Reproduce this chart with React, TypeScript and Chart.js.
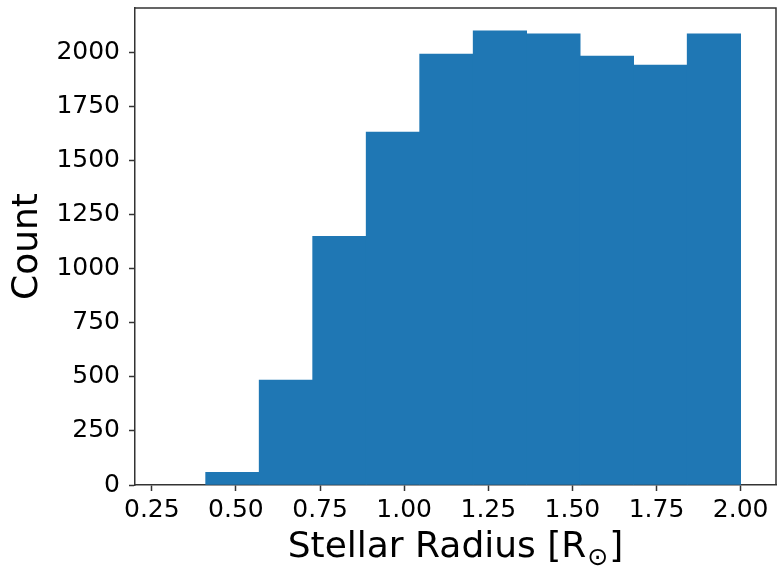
import React, { useEffect, useRef } from "react";
import { Chart, registerables } from "chart.js";

Chart.register(...registerables);

// Histogram bin edges (stellar radius, R_sun) and counts per bin
const binEdges = [0.41, 0.569, 0.728, 0.887, 1.046, 1.205, 1.364, 1.523, 1.682, 1.841, 2.0];
const counts = [59, 485, 1149, 1631, 1992, 2099, 2086, 1983, 1941, 2086];
const xTicks = [0.25, 0.5, 0.75, 1.0, 1.25, 1.5, 1.75, 2.0];
const yTicks = [0, 250, 500, 750, 1000, 1250, 1500, 1750, 2000];
const xLabel = "Stellar Radius [R";
const xLabelSub = "⊙";
const xLabelEnd = "]";
const yLabel = "Count";

const FONT = "'DejaVu Sans', sans-serif";
const SPINE = "#333333";

export default function App() {
  const ref = useRef<HTMLCanvasElement | null>(null);

  useEffect(() => {
    const canvas = ref.current;
    if (!canvas) return;
    const points = counts.map((c, i) => ({ x: (binEdges[i] + binEdges[i + 1]) / 2, y: c }));

    const framePlugin = {
      id: "frameAndTitles",
      afterDraw(chart: any) {
        const { ctx, chartArea } = chart;
        ctx.save();
        // top and right spines
        ctx.strokeStyle = SPINE;
        ctx.lineWidth = 1.5;
        ctx.beginPath();
        ctx.moveTo(chartArea.left, chartArea.top);
        ctx.lineTo(chartArea.right, chartArea.top);
        ctx.lineTo(chartArea.right, chartArea.bottom);
        ctx.stroke();

        ctx.fillStyle = "#000";
        // x title with subscript
        const size = 36;
        ctx.font = `${size}px ${FONT}`;
        const subSize = Math.round(size * 0.7);
        const w1 = ctx.measureText(xLabel).width;
        const w3 = ctx.measureText(xLabelEnd).width;
        ctx.font = `${subSize}px ${FONT}`;
        const w2 = ctx.measureText(xLabelSub).width;
        const total = w1 + w2 + w3 + 2;
        const cx = (chartArea.left + chartArea.right) / 2;
        let x = cx - total / 2;
        const baseline = 557;
        ctx.textBaseline = "alphabetic";
        ctx.textAlign = "left";
        ctx.font = `${size}px ${FONT}`;
        ctx.fillText(xLabel, x, baseline);
        x += w1 + 1;
        ctx.font = `${subSize}px ${FONT}`;
        ctx.fillText(xLabelSub, x, baseline + 8);
        x += w2 + 1;
        ctx.font = `${size}px ${FONT}`;
        ctx.fillText(xLabelEnd, x, baseline);

        // y title
        ctx.translate(28, (chartArea.top + chartArea.bottom) / 2);
        ctx.rotate(-Math.PI / 2);
        ctx.textAlign = "center";
        ctx.textBaseline = "middle";
        ctx.font = `${size}px ${FONT}`;
        ctx.fillText(yLabel, 0, 0);
        ctx.restore();
      },
    };

    const chart = new Chart(canvas, {
      type: "bar",
      data: {
        datasets: [
          {
            data: points,
            backgroundColor: "#1f77b4",
            borderWidth: 0,
            barPercentage: 1,
            categoryPercentage: 1,
          },
        ],
      },
      options: {
        animation: false,
        responsive: false,
        maintainAspectRatio: false,
        layout: { padding: { top: 8, right: 4, left: 0, bottom: 0 } },
        plugins: { legend: { display: false }, tooltip: { enabled: false } },
        scales: {
          x: {
            type: "linear",
            min: 0.2,
            max: 2.105,
            offset: false,
            grid: {
              offset: false,
              drawOnChartArea: false,
              drawTicks: true,
              tickLength: 6,
              tickColor: SPINE,
              tickWidth: 1.5,
            },
            border: { display: true, color: SPINE, width: 1.5 },
            ticks: {
              autoSkip: false,
              maxRotation: 0,
              padding: 4,
              color: "#000",
              font: { family: FONT, size: 25 },
              callback: (v: any) => Number(v).toFixed(2),
            },
            afterBuildTicks: (scale: any) => {
              scale.ticks = xTicks.map((v) => ({ value: v }));
            },
            afterFit: (scale: any) => {
              scale.height = 82;
              scale.paddingLeft = 0;
              scale.paddingRight = 0;
            },
          },
          y: {
            type: "linear",
            min: 0,
            max: 2205,
            grid: {
              drawOnChartArea: false,
              drawTicks: true,
              tickLength: 6,
              tickColor: SPINE,
              tickWidth: 1.5,
            },
            border: { display: true, color: SPINE, width: 1.5 },
            ticks: {
              autoSkip: false,
              padding: 9,
              color: "#000",
              font: { family: FONT, size: 25 },
              callback: (v: any) => String(v),
            },
            afterBuildTicks: (scale: any) => {
              scale.ticks = yTicks.map((v) => ({ value: v }));
            },
            afterFit: (scale: any) => {
              scale.width = 135;
              scale.paddingTop = 0;
              scale.paddingBottom = 0;
            },
          },
        },
      },
      plugins: [framePlugin],
    });
    return () => chart.destroy();
  }, []);

  return (
    <div style={{ position: "absolute", left: 0, top: 0, width: 780, height: 567, background: "#fff" }}>
      <canvas ref={ref} width={780} height={567} style={{ width: 780, height: 567, display: "block" }} />
    </div>
  );
}
